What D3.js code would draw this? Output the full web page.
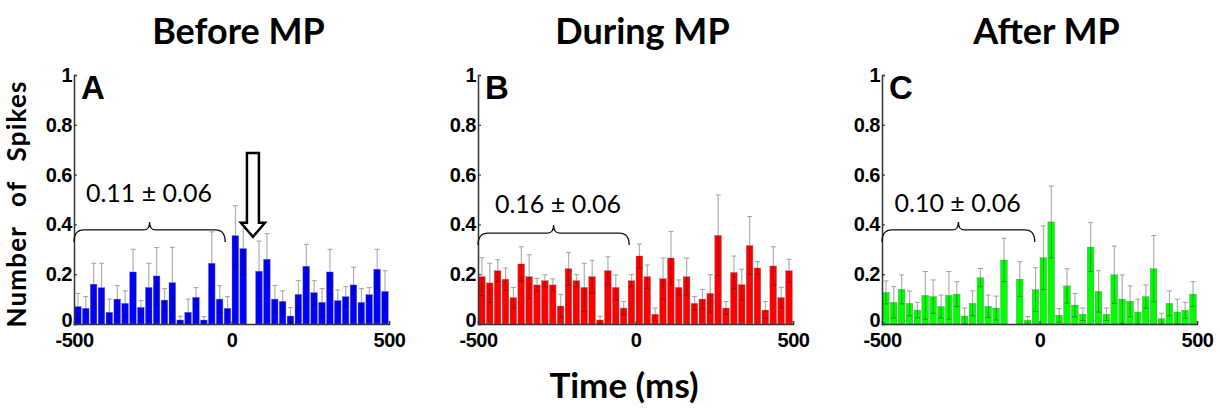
<!DOCTYPE html>
<html>
<head>
<meta charset="utf-8">
<script src="https://cdn.jsdelivr.net/npm/d3@7"></script>
<style>
  body { margin: 0; background: #fff; }
  svg { display: block; }
</style>
</head>
<body>
<svg id="svg" width="1220" height="409"></svg>
<script>
// bin starts (ms), 25 ms bins
var binStarts = d3.range(-500, 500, 25);
var binWidth = 25;

var titles = ["Before MP", "During MP", "After MP"];
var letters = ["A", "B", "C"];
var meanLabels = ["0.11 \u00b1 0.06", "0.16 \u00b1 0.06", "0.10 \u00b1 0.06"];

var beforeMean = [0.07, 0.063, 0.16, 0.146, 0.047, 0.1, 0.083, 0.209, 0.067, 0.147,
  0.193, 0.096, 0.166, 0.016, 0.047, 0.107, 0.016, 0.244, 0.1, 0.063,
  0.355, 0.303, 0, 0.212, 0.26, 0.1, 0.091, 0.032, 0.119, 0.232,
  0.126, 0.087, 0.209, 0.094, 0.11, 0.157, 0.087, 0.118, 0.22, 0.131];
var beforeErr = [0.053, 0.047, 0.084, 0.098, 0.053, 0.054, 0.05, 0.091, 0.027, 0.097,
  0.114, 0.046, 0.142, 0.015, 0.053, 0.039, 0.014, 0.126, 0.054, 0.047,
  0.12, 0.105, 0, 0.121, 0.103, 0.055, 0.042, 0.034, 0.055, 0.088,
  0.048, 0.055, 0.091, 0.043, 0.04, 0.071, 0.055, 0.028, 0.08, 0.083];

var duringMean = [0.19, 0.165, 0.214, 0.18, 0.106, 0.241, 0.19, 0.157, 0.174, 0.157,
  0.072, 0.222, 0.174, 0.147, 0.19, 0.016, 0.214, 0.147, 0.064, 0.174,
  0.273, 0.19, 0.039, 0.182, 0.265, 0.147, 0.19, 0.083, 0.1, 0.123,
  0.356, 0.064, 0.207, 0.158, 0.315, 0.225, 0.056, 0.233, 0.106, 0.214];
var duringErr = [0.076, 0.079, 0.044, 0.045, 0.041, 0.069, 0.088, 0.026, 0.024, 0.024,
  0.047, 0.066, 0.024, 0.097, 0.066, 0.015, 0.056, 0.05, 0.026, 0.024,
  0.048, 0.047, 0.025, 0.083, 0.107, 0.03, 0.075, 0.027, 0.039, 0.075,
  0.162, 0.026, 0.066, 0.062, 0.117, 0.025, 0.034, 0.077, 0.041, 0.046];

var afterMean = [0.127, 0.087, 0.139, 0.083, 0.056, 0.115, 0.11, 0.07, 0.115, 0.12,
  0.032, 0.083, 0.186, 0.071, 0.064, 0.257, 0, 0.18, 0.015, 0.138,
  0.266, 0.41, 0.035, 0.153, 0.076, 0.039, 0.309, 0.131, 0.039, 0.198,
  0.1, 0.091, 0.048, 0.11, 0.222, 0.021, 0.083, 0.048, 0.055, 0.12];
var afterErr = [0.046, 0.063, 0.058, 0.05, 0.031, 0.096, 0.067, 0.046, 0.096, 0.05,
  0.032, 0.05, 0.037, 0.045, 0.048, 0.087, 0, 0.07, 0.015, 0.088,
  0.128, 0.144, 0.027, 0.069, 0.047, 0.025, 0.098, 0.083, 0.025, 0.115,
  0.097, 0.062, 0.052, 0.047, 0.133, 0.022, 0.05, 0.052, 0.032, 0.05];

var yTicks = [0, 0.2, 0.4, 0.6, 0.8, 1];
var xTicks = [-500, 0, 500];

// bracket over the pre-zero window, and where the mean label sits
var bracketEnd = [-20, -20, -15];
var bracketY = [0.378, 0.365, 0.378];
var labelPos = [[-262, 0.49], [-246, 0.446], [-260, 0.45]];

var svg = d3.select("#svg");
var colors = ["#0000ff", "#ff0000", "#00ff00"];
var innerErr = ["#00006a", "#6a0000", "#006a00"];
var panelLeft = [74, 478, 882];
var panelW = 315;

var y = d3.scaleLinear().domain([0, 1]).range([324, 75]);

var panels = [
  { mean: beforeMean, err: beforeErr },
  { mean: duringMean, err: duringErr },
  { mean: afterMean, err: afterErr }
];

panels.forEach(function(p, k) {
  var x = d3.scaleLinear().domain([-500, 500]).range([panelLeft[k], panelLeft[k] + panelW]);
  var g = svg.append("g");

  var data = binStarts.map(function(t, i) {
    return { t: t, v: p.mean[i], e: p.err[i] };
  });

  // bars
  g.selectAll(".bar")
    .data(data.filter(d => d.v > 0))
    .enter()
    .append("rect")
    .attr("class", "bar")
    .attr("x", d => x(d.t) + 0.5)
    .attr("width", d => x(d.t + binWidth) - x(d.t) - 1.2)
    .attr("y", d => y(d.v))
    .attr("height", d => y(0) - y(d.v))
    .attr("fill", colors[k])
    .attr("stroke", "#7a7a7a")
    .attr("stroke-width", 0.4);

  // error bars
  var eb = g.selectAll(".err")
    .data(data.filter(d => d.v > 0))
    .enter()
    .append("g")
    .attr("class", "err");
  var cx = d => x(d.t + binWidth / 2);
  eb.append("line")
    .attr("x1", cx).attr("x2", cx)
    .attr("y1", d => y(d.v)).attr("y2", d => y(d.v + d.e))
    .attr("stroke", "#b0b0b0").attr("stroke-width", 1.2);
  eb.append("line")
    .attr("x1", d => cx(d) - 2.5).attr("x2", d => cx(d) + 2.5)
    .attr("y1", d => y(d.v + d.e)).attr("y2", d => y(d.v + d.e))
    .attr("stroke", "#a0a0a0").attr("stroke-width", 1);
  eb.append("line")
    .attr("x1", cx).attr("x2", cx)
    .attr("y1", d => y(d.v)).attr("y2", d => y(Math.max(0, d.v - d.e)))
    .attr("stroke", innerErr[k]).attr("stroke-width", 1).attr("opacity", 0.6);
  eb.append("line")
    .attr("x1", d => cx(d) - 2.5).attr("x2", d => cx(d) + 2.5)
    .attr("y1", d => y(Math.max(0, d.v - d.e))).attr("y2", d => y(Math.max(0, d.v - d.e)))
    .attr("stroke", innerErr[k]).attr("stroke-width", 1).attr("opacity", 0.6);

  // axes
  var yAxis = g.append("g")
    .attr("transform", `translate(${panelLeft[k]}, 0)`)
    .call(d3.axisLeft(y).tickValues(yTicks).tickSize(-3).tickPadding(4)
      .tickFormat(d => (d === 0 || d === 1) ? String(d) : d3.format(".1f")(d)));
  var xAxis = g.append("g")
    .attr("transform", `translate(0, ${y(0)})`)
    .call(d3.axisBottom(x).tickValues(xTicks).tickSize(-3).tickPadding(9)
      .tickFormat(d => String(d)));
  [yAxis, xAxis].forEach(function(a) {
    a.select(".domain").attr("stroke", "#333").attr("stroke-width", 1.5);
    a.selectAll(".tick line").attr("stroke", "#333").attr("stroke-width", 1.2);
    a.selectAll("text")
      .attr("fill", "#000")
      .style("font-family", "'Liberation Sans', Arial, sans-serif")
      .style("font-weight", "bold")
      .style("font-size", "20px")
      .style("letter-spacing", "-0.5px");
  });
  yAxis.selectAll(".tick text").attr("dx", "2");
  yAxis.selectAll(".tick text").filter(d => d === 0).attr("dy", "0.12em");

  // panel letter
  g.append("text")
    .attr("x", panelLeft[k] + 7)
    .attr("y", 99)
    .style("font-family", "'Liberation Sans', Arial, sans-serif")
    .style("font-weight", "bold")
    .style("font-size", "33px")
    .text(letters[k]);

  // title
  svg.append("text")
    .attr("x", x(0) + 7)
    .attr("y", 44)
    .style("text-anchor", "middle")
    .style("font-family", "Lato, sans-serif")
    .style("font-weight", "bold")
    .style("font-size", "36px")
    .text(titles[k]);

  // curly bracket over -500..~-20 ms
  var x0 = x(-500), x1 = x(bracketEnd[k]);
  var yH = y(bracketY[k]), yEnd = yH + 12, yPeak = yH - 8;
  var xm = (x0 + x1) / 2;
  var path = d3.path();
  path.moveTo(x0, yEnd);
  path.quadraticCurveTo(x0, yH, x0 + 10, yH);
  path.lineTo(xm - 6, yH);
  path.quadraticCurveTo(xm, yH, xm, yPeak);
  path.quadraticCurveTo(xm, yH, xm + 6, yH);
  path.lineTo(x1 - 10, yH);
  path.quadraticCurveTo(x1, yH, x1, yEnd);
  g.append("path")
    .attr("d", path.toString())
    .attr("fill", "none")
    .attr("stroke", "#111")
    .attr("stroke-width", 1.3);

  g.append("text")
    .attr("x", x(labelPos[k][0]))
    .attr("y", y(labelPos[k][1]))
    .style("text-anchor", "middle")
    .style("font-family", "Lato, sans-serif")
    .style("font-size", "25px")
    .text(meanLabels[k]);

  // hollow arrow marking the gap in panel A
  if (k === 0) {
    var ax = x(68), top = y(0.687), tip = y(0.35), headTop = tip - 14;
    var a = d3.path();
    a.moveTo(ax - 6, top);
    a.lineTo(ax + 6, top);
    a.lineTo(ax + 6, headTop);
    a.lineTo(ax + 12, headTop);
    a.lineTo(ax, tip);
    a.lineTo(ax - 12, headTop);
    a.lineTo(ax - 6, headTop);
    a.closePath();
    g.append("path")
      .attr("d", a.toString())
      .attr("fill", "#fff")
      .attr("stroke", "#000")
      .attr("stroke-width", 2.5);
  }
});

// shared axis titles
svg.append("text")
  .attr("transform", "translate(26, 204) rotate(-90)")
  .style("text-anchor", "middle")
  .style("font-family", "Lato, sans-serif")
  .style("font-weight", "bold")
  .style("font-size", "26px")
  .style("letter-spacing", "1.2px")
  .style("word-spacing", "12px")
  .text("Number of Spikes");

svg.append("text")
  .attr("x", 624)
  .attr("y", 398)
  .style("text-anchor", "middle")
  .style("font-family", "Lato, sans-serif")
  .style("font-weight", "bold")
  .style("font-size", "35px")
  .text("Time (ms)");
</script>
</body>
</html>
